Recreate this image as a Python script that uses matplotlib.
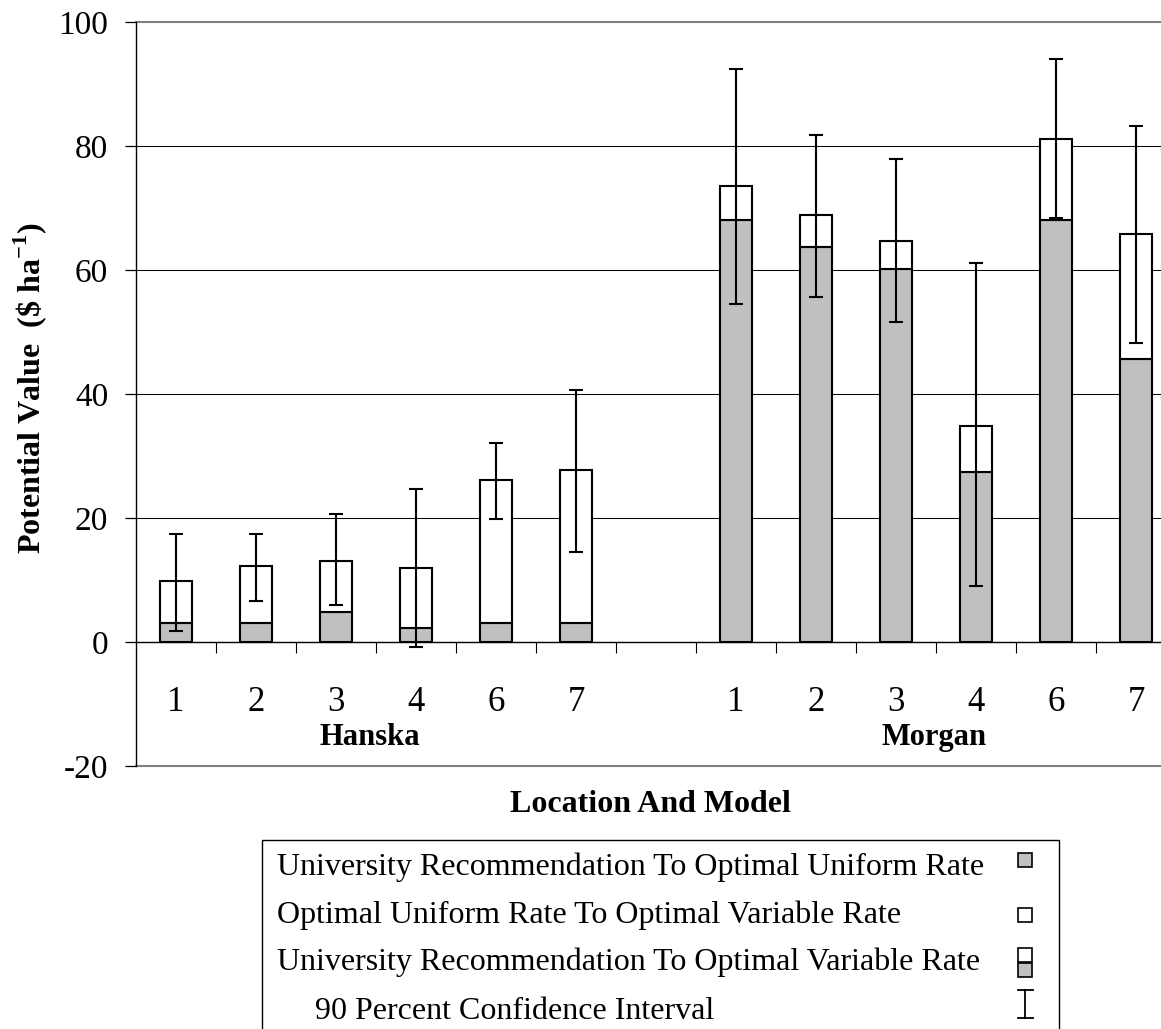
import matplotlib
matplotlib.use("Agg")
import matplotlib.pyplot as plt
import matplotlib.transforms as mtransforms
from matplotlib.patches import Rectangle
from matplotlib.lines import Line2D
import numpy as np

# ---------------- data ----------------
models = ['1', '2', '3', '4', '6', '7']
locations = ['Hanska', 'Morgan']

hanska_uniform = [3.0, 3.0, 4.8, 2.2, 3.0, 3.0]          # Univ. rec. -> optimal uniform
hanska_total = [9.9, 12.2, 13.1, 11.9, 26.2, 27.7]       # Univ. rec. -> optimal variable
hanska_ci_low = [1.8, 6.6, 5.9, -0.8, 19.9, 14.5]
hanska_ci_high = [17.5, 17.5, 20.6, 24.6, 32.1, 40.7]

morgan_uniform = [68.1, 63.7, 60.1, 27.5, 68.1, 45.6]
morgan_total = [73.5, 68.8, 64.6, 34.9, 81.2, 65.8]
morgan_ci_low = [54.5, 55.7, 51.6, 9.1, 68.4, 48.3]
morgan_ci_high = [92.5, 81.8, 77.9, 61.1, 94.0, 83.3]

y_ticks = [-20, 0, 20, 40, 60, 80, 100]
legend_labels = ['University Recommendation To Optimal Uniform Rate',
                 'Optimal Uniform Rate To Optimal Variable Rate',
                 'University Recommendation To Optimal Variable Rate',
                 '90 Percent Confidence Interval']

# ---------------- style ----------------
plt.rcParams['font.family'] = ['Liberation Serif', 'DejaVu Serif']
plt.rcParams['mathtext.fontset'] = 'custom'
plt.rcParams['mathtext.rm'] = 'Liberation Serif'
plt.rcParams['mathtext.bf'] = 'Liberation Serif:bold'
plt.rcParams['axes.unicode_minus'] = False

W, H = 1161, 1029
fig = plt.figure(figsize=(W / 100, H / 100), dpi=100)
fig.patch.set_facecolor('white')

def fx(px):
    return px / W

def fy(py):
    return 1 - py / H

ax = fig.add_axes([fx(136), fy(766), 1040 / W, 744 / H])
ax.set_xlim(0, 13)
ax.set_ylim(-20, 100)

GRAY = '#c0c0c0'
bw = 0.41

pos_h = np.arange(len(models)) + 0.5
pos_m = np.arange(len(models)) + 7.5

for pos, uni, tot, lo, hi in [
    (pos_h, hanska_uniform, hanska_total, hanska_ci_low, hanska_ci_high),
    (pos_m, morgan_uniform, morgan_total, morgan_ci_low, morgan_ci_high),
]:
    uni = np.array(uni); tot = np.array(tot); lo = np.array(lo); hi = np.array(hi)
    ax.bar(pos, uni, width=bw, color=GRAY, edgecolor='black', linewidth=1.5, zorder=2)
    ax.bar(pos, tot - uni, bottom=uni, width=bw, color='white', edgecolor='black',
           linewidth=1.5, zorder=2)
    ax.errorbar(pos, tot, yerr=[tot - lo, hi - tot], fmt='none', ecolor='black',
                elinewidth=1.5, capsize=5.3, capthick=1.5, zorder=3)

# gridlines & frame
for y in [20, 40, 60, 80]:
    ax.axhline(y, color='black', lw=0.75, zorder=0.5)
for y in [100, -20]:
    ax.axhline(y, color='#808080', lw=1.5, zorder=0.5, clip_on=False)

ax.spines['top'].set_visible(False)
ax.spines['right'].set_visible(False)
ax.spines['bottom'].set_position(('data', 0))
ax.spines['bottom'].set_linewidth(1.0)
ax.spines['left'].set_linewidth(1.0)
ax.spines['bottom'].set_zorder(2.5)

ax.set_yticks(y_ticks)
ax.set_yticklabels([str(v) for v in y_ticks])
ax.tick_params(axis='y', direction='out', length=8, width=0.9, pad=12, labelsize=24)
ax.set_xticks(range(1, 13))
ax.set_xticklabels([])
ax.tick_params(axis='x', direction='out', length=8, width=0.8)

# category labels
bt = mtransforms.blended_transform_factory(ax.transData, fig.transFigure)
for pos in (pos_h, pos_m):
    for p, m in zip(pos, models):
        ax.text(p, fy(711), m, transform=bt, ha='center', va='baseline', fontsize=25)
ax.text(2.92, fy(745), locations[0], transform=bt, ha='center', va='baseline',
        fontsize=22, fontweight='bold')
ax.text(9.98, fy(745), locations[1], transform=bt, ha='center', va='baseline',
        fontsize=22, fontweight='bold')

fig.text(fx(650), fy(812), 'Location And Model', ha='center', va='baseline',
         fontsize=23, fontweight='bold')
fig.text(fx(30), fy(388), r'Potential Value  (\$ ha$^{\mathbf{-1}}$)', rotation=90,
         ha='center', va='center', fontsize=23, fontweight='bold')

# ---------------- legend (manual) ----------------
fig.add_artist(Rectangle((fx(262), fy(1060)), (1059 - 262) / W, 220 / H,
                         transform=fig.transFigure, facecolor='white',
                         edgecolor='black', lw=1.0))
text_x = [277, 277, 277, 315]
text_base = [875, 923, 970, 1019]
for lab, tx, tb in zip(legend_labels, text_x, text_base):
    fig.text(fx(tx), fy(tb), lab, ha='left', va='baseline', fontsize=23)

mx = 1025
s = 14.5
fig.add_artist(Rectangle((fx(mx - s / 2), fy(860 + s / 2)), s / W, s / H,
                         transform=fig.transFigure, facecolor=GRAY, edgecolor='black', lw=1.2))
fig.add_artist(Rectangle((fx(mx - s / 2), fy(915 + s / 2)), s / W, s / H,
                         transform=fig.transFigure, facecolor='white', edgecolor='black', lw=1.2))
fig.add_artist(Rectangle((fx(mx - s / 2), fy(962)), s / W, s / H,
                         transform=fig.transFigure, facecolor='white', edgecolor='black', lw=1.2))
fig.add_artist(Rectangle((fx(mx - s / 2), fy(977)), s / W, s / H,
                         transform=fig.transFigure, facecolor=GRAY, edgecolor='black', lw=1.2))
fig.add_artist(Line2D([fx(mx), fx(mx)], [fy(990), fy(1018)], transform=fig.transFigure,
                      color='black', lw=1.3))
for yy in (990, 1018):
    fig.add_artist(Line2D([fx(mx - 7.5), fx(mx + 7.5)], [fy(yy), fy(yy)],
                          transform=fig.transFigure, color='black', lw=1.3))

fig.savefig('out.png', dpi=100, facecolor='white')
